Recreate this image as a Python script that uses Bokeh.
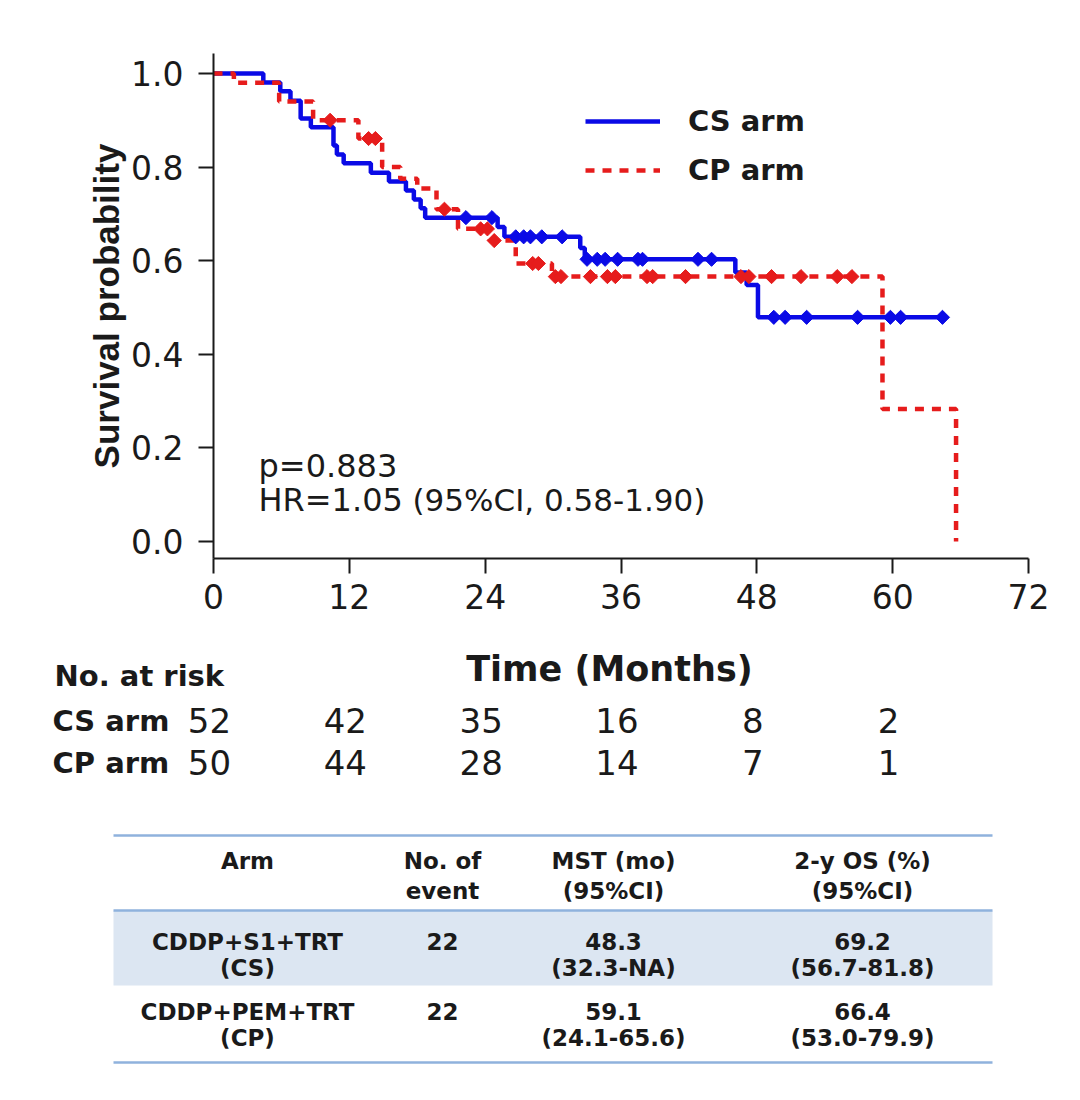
import numpy as np
from bokeh.plotting import figure
from bokeh.layouts import column
from bokeh.models import Range1d, FixedTicker, NumeralTickFormatter, Legend, LegendItem
from bokeh.core.properties import value
from bokeh.embed import file_html
from bokeh.resources import INLINE

# ---------------- data ----------------
# CS arm (CDDP+S1+TRT): step points (time in months, survival after step)
cs_time = [0, 4.4, 5.9, 6.8, 7.7, 8.6, 10.6, 10.9, 11.5, 13.9, 15.5, 17.0, 17.7,
           18.3, 18.7, 25.1, 25.7, 32.4, 32.8, 46.1, 47.1, 48.1, 64.4]
cs_surv = [1.0, 0.981, 0.962, 0.942, 0.904, 0.885, 0.846, 0.827, 0.808, 0.788, 0.769,
           0.750, 0.731, 0.712, 0.692, 0.672, 0.651, 0.627, 0.603, 0.575, 0.548, 0.479, 0.479]
cs_censor = [22.3, 24.6, 26.7, 27.4, 28.0, 29.0, 30.8, 33.0, 33.9, 34.6, 35.7, 37.5,
             37.9, 42.8, 44.0, 49.5, 50.5, 52.4, 56.9, 59.8, 60.7, 64.4]

# CP arm (CDDP+PEM+TRT)
cp_time = [0, 1.8, 5.8, 8.8, 12.8, 14.9, 16.5, 18.0, 19.7, 21.6, 24.4, 26.7, 29.9, 59.1, 65.6]
cp_surv = [1.0, 0.98, 0.94, 0.90, 0.861, 0.80, 0.775, 0.754, 0.71, 0.668, 0.643, 0.594,
           0.566, 0.283, 0.0]
cp_censor = [10.3, 13.7, 14.3, 20.4, 23.6, 24.2, 24.8, 28.2, 28.7, 30.2, 30.7, 33.3, 34.8,
             35.5, 38.3, 38.8, 41.7, 46.6, 47.3, 49.3, 51.9, 55.1, 56.4]

x_ticks = [0, 12, 24, 36, 48, 60, 72]
y_ticks = [0.0, 0.2, 0.4, 0.6, 0.8, 1.0]

risk_times = [0, 12, 24, 36, 48, 60]
cs_risk = [52, 42, 35, 16, 8, 2]
cp_risk = [50, 44, 28, 14, 7, 1]
risk_rows = ["CS arm", "CP arm"]

stat_p = "p=0.883"
stat_hr = "HR=1.05"
stat_ci = "(95%CI, 0.58-1.90)"

header_1 = ["Arm", "No. of", "MST (mo)", "2-y OS (%)"]
header_2 = ["", "event", "(95%CI)", "(95%CI)"]
row_cs_1 = ["CDDP+S1+TRT", "22", "48.3", "69.2"]
row_cs_2 = ["(CS)", "", "(32.3-NA)", "(56.7-81.8)"]
row_cp_1 = ["CDDP+PEM+TRT", "22", "59.1", "66.4"]
row_cp_2 = ["(CP)", "", "(24.1-65.6)", "(53.0-79.9)"]

# ---------------- styling / layout ----------------
BLUE = "#0a0ae6"
RED = "#e61c1c"
INK = "#1a1a1a"
RULE = "#8fb2dd"
BAND = "#dce6f2"
FONT = "DejaVu Sans"

W = 1072
FRAME_L, FRAME_T, FRAME_W, FRAME_H = 213, 53, 815, 505
TOP_H = 628                      # height of the survival-curve figure
BOT_H = 1092 - TOP_H             # height of the lower (risk table + summary) figure
PX_PER_MONTH = FRAME_W / 72.0
Y_TOP, Y_BOT = 1.0427, -0.0363
PX_PER_UNIT = FRAME_H / (Y_TOP - Y_BOT)


def px2m(px):
    """canvas x pixel -> months (shared horizontal scale)"""
    return (px - FRAME_L) / PX_PER_MONTH


def py2s(py):
    """canvas y pixel -> survival units of the top figure"""
    return Y_TOP - (py - FRAME_T) / PX_PER_UNIT


def step_at(ts, ss, t):
    i = np.searchsorted(np.asarray(ts), t, side="right") - 1
    return np.asarray(ss)[i]


p = figure(frame_width=FRAME_W, frame_height=FRAME_H,
           min_border_left=FRAME_L, min_border_right=W - FRAME_L - FRAME_W,
           min_border_top=FRAME_T, min_border_bottom=TOP_H - FRAME_T - FRAME_H,
           x_range=Range1d(0, 72), y_range=Range1d(Y_BOT, Y_TOP),
           output_backend="svg", toolbar_location=None)
p.outline_line_color = None
p.grid.visible = False

for ax in (p.xaxis, p.yaxis):
    ax.axis_line_width = 2
    ax.axis_line_color = INK
    ax.major_tick_line_width = 2
    ax.major_tick_line_color = INK
    ax.major_tick_out = 15
    ax.major_tick_in = 0
    ax.minor_tick_line_color = None
    ax.major_label_text_font = FONT
    ax.major_label_text_font_size = "33px"
    ax.major_label_text_color = INK

p.xaxis.ticker = FixedTicker(ticks=x_ticks)
p.xaxis.major_label_standoff = 10
p.yaxis.ticker = FixedTicker(ticks=y_ticks)
p.yaxis.formatter = NumeralTickFormatter(format="0.0")
p.yaxis.major_label_standoff = 15
p.yaxis.axis_label = "Survival probability"
p.yaxis.axis_label_text_font = "Liberation Sans"
p.yaxis.axis_label_text_font_size = "35px"
p.yaxis.axis_label_text_font_style = "bold"
p.yaxis.axis_label_text_color = INK
p.yaxis.axis_label_standoff = 2

r_cs = p.step(cs_time, cs_surv, mode="after", line_color=BLUE, line_width=4.5)
r_cp = p.step(cp_time, cp_surv, mode="after", line_color=RED, line_width=4.5,
              line_dash="9 8")

p.scatter(cs_censor, [step_at(cs_time, cs_surv, t) for t in cs_censor],
          marker="square", angle=np.pi / 4, size=10, color=BLUE)
p.scatter(cp_censor, [step_at(cp_time, cp_surv, t) for t in cp_censor],
          marker="square", angle=np.pi / 4, size=10, color=RED)

legend = Legend(items=[LegendItem(label="CS arm", renderers=[r_cs]),
                       LegendItem(label="CP arm", renderers=[r_cp])],
                location=(372, 371), glyph_width=75, glyph_height=30, label_height=30,
                label_standoff=28, spacing=15, padding=0, margin=0,
                border_line_color=None, background_fill_alpha=0,
                label_text_font=FONT, label_text_font_size="29px",
                label_text_font_style="bold", label_text_color=INK)
p.add_layout(legend)

p.text(x=[px2m(258), px2m(258)], y=[py2s(465), py2s(499)], text=[stat_p, stat_hr],
       text_font=value(FONT), text_font_size="32px", text_color=INK,
       text_align="left", text_baseline="middle")
p.text(x=[px2m(412)], y=[py2s(499)], text=[stat_ci],
       text_font=value(FONT), text_font_size="31px", text_color=INK,
       text_align="left", text_baseline="middle")

# ---------------- lower figure: numbers at risk + summary table ----------------
# x in months (same scale as above, extended over the full width), y in canvas pixels
p2 = figure(frame_width=W, frame_height=BOT_H, min_border=0,
            min_border_left=0, min_border_right=0, min_border_top=0, min_border_bottom=0,
            x_range=Range1d(px2m(0), px2m(W)), y_range=Range1d(1092, TOP_H),
            x_axis_type=None, y_axis_type=None,
            output_backend="svg", toolbar_location=None)
p2.outline_line_color = None
p2.grid.visible = False

for fig in (p, p2):
    if "frame_align" in fig.properties():
        fig.frame_align = False


def put(xs, ys, texts, size, bold=False, align="left", x_offset=0):
    p2.text(x=xs, y=ys, text=texts, text_font=value(FONT), text_font_size=f"{size}px",
            text_font_style="bold" if bold else "normal", text_color=INK,
            text_align=align, text_baseline="middle", x_offset=x_offset)


put([px2m(609)], [668], ["Time (Months)"], 35, bold=True, align="center")
put([px2m(54)], [675], ["No. at risk"], 29, bold=True)
put([px2m(52), px2m(52)], [720, 762], risk_rows, 29, bold=True)
put(risk_times, [720] * len(risk_times), [str(v) for v in cs_risk], 34,
    align="center", x_offset=-4)
put(risk_times, [762] * len(risk_times), [str(v) for v in cp_risk], 34,
    align="center", x_offset=-4)

T_LEFT, T_RIGHT = px2m(113), px2m(992)
p2.quad(left=[T_LEFT], right=[T_RIGHT], top=[910], bottom=[985],
        fill_color=BAND, line_color=None)
rule_y = [835, 910, 1062]
p2.segment(x0=[T_LEFT] * 3, x1=[T_RIGHT] * 3, y0=rule_y, y1=rule_y,
           line_color=RULE, line_width=2.5)

col_x = [px2m(v) for v in (247, 442, 613, 862)]
for lines, yy in ((header_1, 860), (header_2, 890), (row_cs_1, 941), (row_cs_2, 967),
                  (row_cp_1, 1011), (row_cp_2, 1037)):
    put(col_x, [yy] * 4, lines, 23, bold=True, align="center")

layout = column(p, p2, spacing=0)
open("out.html", "w").write(file_html(layout, INLINE))
